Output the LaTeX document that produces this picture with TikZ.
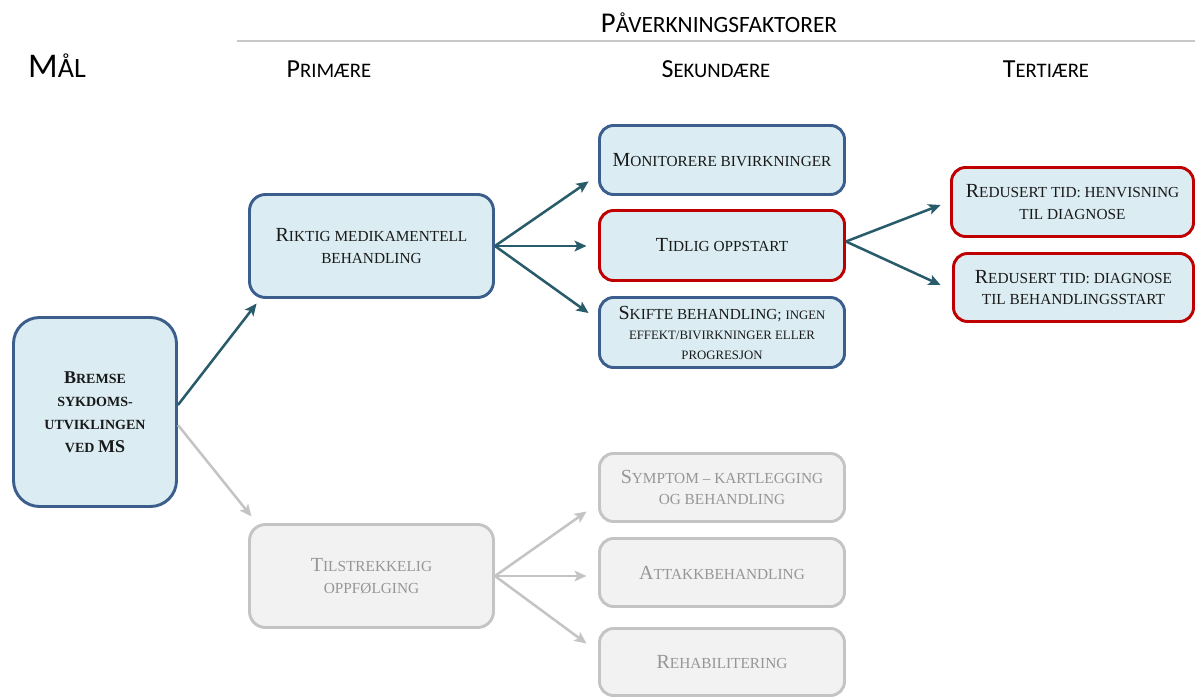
\documentclass[tikz,border=0pt]{standalone}
\usepackage{fontspec}
\setmainfont{Liberation Serif}
\newfontfamily\hfont{Carlito}
\usetikzlibrary{arrows.meta}
\definecolor{bluebd}{RGB}{59,94,140}
\definecolor{redbd}{RGB}{192,0,0}
\definecolor{boxfill}{RGB}{219,237,243}
\definecolor{arrteal}{RGB}{40,92,106}
\definecolor{grayfill}{RGB}{242,242,242}
\definecolor{graybd}{RGB}{196,196,196}
\definecolor{graytxt}{RGB}{150,150,150}
\definecolor{txt}{RGB}{25,25,25}
\definecolor{hline}{RGB}{200,200,200}
\newcommand\BG[1]{{\fontsize{15}{16}\selectfont #1}}
\newcommand\SM{\fontsize{11.5}{16}\selectfont}
\newcommand\SMM{\fontsize{9.6}{15}\selectfont}
\newcommand\BB[1]{{\fontsize{13.5}{17.25}\selectfont #1}}
\newcommand\HB[1]{{\fontsize{19.5}{22}\selectfont #1}}
\newcommand\HS{\fontsize{15.5}{22}\selectfont}
\tikzset{
  box/.style={rectangle, rounded corners=10.5pt, draw=bluebd, fill=boxfill, line width=2.2pt,
    align=center, text=txt, font=\SM, inner sep=0pt, minimum width=183.75pt},
  redbox/.style={box, draw=redbd},
  graybox/.style={box, draw=graybd, fill=grayfill, text=graytxt},
  arr/.style={draw=arrteal, line width=1.9pt, -{Stealth[length=9pt,width=8pt,inset=2pt]}},
  garr/.style={arr, draw=graybd},
  head/.style={font=\hfont\HS, text=black, anchor=base, inner sep=0pt}
}
\begin{document}
\begin{tikzpicture}[x=0.75pt,y=-0.75pt]
\useasboundingbox (0,0) rectangle (1195,698);
% headers
\coordinate (hl1) at (237,41);
\coordinate (hl2) at (1195,41);
\draw[hline, line width=0.9pt] (hl1) -- (hl2);
\node[head] (hpav) at (719,33) {{\fontsize{21.5}{22}\selectfont P}{\fontsize{17.5}{22}\selectfont ÅVERKNINGSFAKTORER}};
\node[head] (hmal) at (57,78) {{\fontsize{26}{26}\selectfont M}{\fontsize{21}{26}\selectfont ÅL}};
\node[head] (hprim) at (329,78) {\HB{P}RIMÆRE};
\node[head] (hsek) at (716,78) {\HB{S}EKUNDÆRE};
\node[head] (hter) at (1046,78) {\HB{T}ERTIÆRE};
% boxes
\node[box, rounded corners=19.5pt, minimum width=122.25pt, minimum height=141.75pt,
  font=\bfseries\fontsize{10.5}{17.25}\selectfont] (bremse) at (95,412)
  {\BB{B}REMSE\\SYKDOMS-\\UTVIKLINGEN\\VED \BB{MS}};
\node[box, rounded corners=12pt, minimum width=183pt, minimum height=77.25pt] (riktig) at (371.5,246)
  {\BG{R}IKTIG MEDIKAMENTELL\\BEHANDLING};
\node[box, minimum height=51.75pt] (moni) at (722,160) {\BG{M}ONITORERE BIVIRKNINGER};
\node[redbox, minimum height=52.5pt] (tidlig) at (722,245.5) {\BG{T}IDLIG OPPSTART};
\node[box, minimum height=52.5pt, font=\fontsize{11.5}{15}\selectfont] (skifte) at (722,332.5)
  {\BG{S}KIFTE BEHANDLING; {\SMM INGEN}\\{\SMM EFFEKT/BIVIRKNINGER ELLER}\\{\SMM PROGRESJON}};
\node[redbox, minimum width=181.5pt, minimum height=51.75pt] (red1) at (1072.5,202)
  {\BG{R}EDUSERT TID: HENVISNING\\TIL DIAGNOSE};
\node[redbox, minimum width=180pt, minimum height=51pt] (red2) at (1073.5,287.5)
  {\BG{R}EDUSERT TID: DIAGNOSE\\TIL BEHANDLINGSSTART};
\node[graybox, rounded corners=12pt, minimum width=183pt, minimum height=77.25pt] (tilstr) at (371.5,576)
  {\BG{T}ILSTREKKELIG\\OPPFØLGING};
\node[graybox, minimum height=51pt] (symptom) at (722,487.5) {\BG{S}YMPTOM – KARTLEGGING\\OG BEHANDLING};
\node[graybox, minimum height=51pt] (attakk) at (722,572.5) {\BG{A}TTAKKBEHANDLING};
\node[graybox, minimum height=50.25pt] (rehab) at (722,662) {\BG{R}EHABILITERING};
% arrows
\draw[arr] ([yshift=5.25pt]bremse.east) -- ([xshift=6.4pt,yshift=-3.4pt]riktig.south west);
\draw[garr] ([yshift=-9.75pt]bremse.east) -- ([xshift=2.6pt,yshift=4.9pt]tilstr.north west);
\draw[arr] (riktig.east) -- ([xshift=-7.1pt,yshift=10.9pt]moni.south west);
\draw[arr] (riktig.east) -- ([xshift=-8.6pt]riktig.east -| tidlig.west);
\draw[arr] (riktig.east) -- ([xshift=-7.1pt,yshift=-12.75pt]skifte.north west);
\draw[arr] ([yshift=3pt]tidlig.east) -- ([xshift=-7.1pt,yshift=-2.25pt]red1.west);
\draw[arr] ([yshift=3pt]tidlig.east) -- ([xshift=-8.6pt,yshift=1.9pt]red2.west);
\draw[garr] (tilstr.east) -- ([xshift=-8.6pt,yshift=8.6pt]symptom.south west);
\draw[garr] (tilstr.east) -- ([xshift=-8.6pt]tilstr.east -| attakk.west);
\draw[garr] (tilstr.east) -- ([xshift=-8.6pt,yshift=-12.4pt]rehab.north west);
\end{tikzpicture}
\end{document}
